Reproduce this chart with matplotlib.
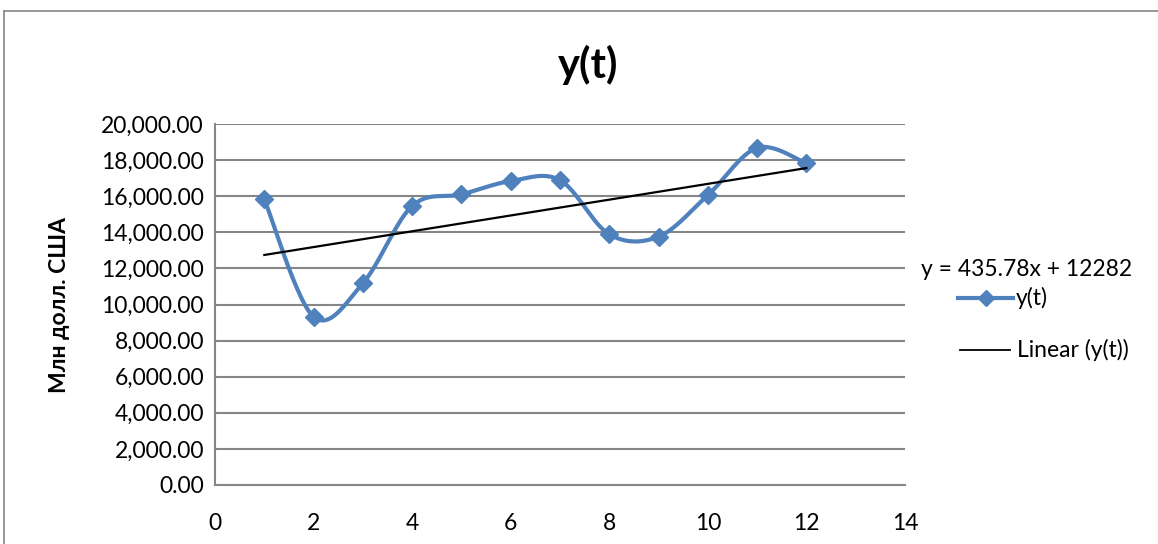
import matplotlib.pyplot as plt
import numpy as np
from matplotlib.lines import Line2D

plt.rcParams['font.family'] = ['Lato', 'DejaVu Sans']

# values
t = [1, 2, 3, 4, 5, 6, 7, 8, 9, 10, 11, 12]
y = [15830, 9320, 11180, 15460, 16100, 16840, 16890, 13890, 13760, 16060, 18680, 17820]
y_ticks = list(range(0, 20001, 2000))
x_ticks = list(range(0, 15, 2))
equation = "y = 435.78x + 12282"

BLUE = '#4F81BD'
GRID = '#868686'


def smooth_curve(xs, ys, steps=30):
    """Excel-like smoothed line (Catmull-Rom through the points)."""
    xs = np.asarray(xs, float)
    ys = np.asarray(ys, float)
    px = np.concatenate([[xs[0]], xs, [xs[-1]]])
    py = np.concatenate([[ys[0]], ys, [ys[-1]]])
    out_x, out_y = [], []
    s = np.linspace(0, 1, steps)
    for i in range(1, len(px) - 2):
        p0, p1, p2, p3 = px[i - 1], px[i], px[i + 1], px[i + 2]
        q0, q1, q2, q3 = py[i - 1], py[i], py[i + 1], py[i + 2]
        # bezier control points
        cx1, cy1 = p1 + (p2 - p0) / 6, q1 + (q2 - q0) / 6
        cx2, cy2 = p2 - (p3 - p1) / 6, q2 - (q3 - q1) / 6
        bx = (1 - s) ** 3 * p1 + 3 * (1 - s) ** 2 * s * cx1 + 3 * (1 - s) * s ** 2 * cx2 + s ** 3 * p2
        by = (1 - s) ** 3 * q1 + 3 * (1 - s) ** 2 * s * cy1 + 3 * (1 - s) * s ** 2 * cy2 + s ** 3 * q2
        out_x.extend(bx)
        out_y.extend(by)
    return np.array(out_x), np.array(out_y)


fig = plt.figure(figsize=(11.58, 5.44), dpi=100)
ax = fig.add_axes([0.1857, 0.1085, 0.5958, 0.6635])

# chart frame (top and left edges visible)
fig.add_artist(Line2D([4 / 1158, 1], [1 - 11 / 544, 1 - 11 / 544], color=GRID, lw=1.2))
fig.add_artist(Line2D([4 / 1158, 4 / 1158], [0, 1 - 11 / 544], color=GRID, lw=1.2))

sx, sy = smooth_curve(t, y)
ax.plot(sx, sy, color=BLUE, lw=3, solid_capstyle='round', zorder=3)
ax.plot(t, y, linestyle='none', marker='D', markersize=9, color=BLUE, zorder=4)

coef = np.polyfit(t, y, 1)
tx = np.array([t[0], t[-1]])
ax.plot(tx, np.polyval(coef, tx), color='black', lw=1.6, zorder=5)

ax.set_xlim(0, 14)
ax.set_ylim(0, 20000)
ax.set_xticks(x_ticks)
ax.set_yticks(y_ticks)
ax.set_yticklabels([f"{v:,.2f}" for v in y_ticks])
ax.tick_params(length=0, labelsize=16.5, pad=8)
ax.tick_params(axis='x', pad=20)
ax.yaxis.grid(True, color=GRID, lw=1.5)
ax.set_axisbelow(True)
for side in ['top', 'right']:
    ax.spines[side].set_visible(False)
for side in ['left', 'bottom']:
    ax.spines[side].set_color(GRID)
    ax.spines[side].set_linewidth(1.5)

ax.set_ylabel("Млн долл. США", fontsize=16.5, fontweight='bold', labelpad=22)
fig.text(0.508, 0.88, "y(t)", fontsize=30, fontweight='bold', ha='center', va='center')

# legend area
fig.text(921 / 1158, 1 - 270 / 544, equation, fontsize=16.5, va='center')
fig.add_artist(Line2D([958 / 1158, 1013 / 1158], [1 - 298 / 544] * 2, color=BLUE, lw=3))
fig.add_artist(Line2D([985.5 / 1158], [1 - 298 / 544], marker='D', markersize=8, color=BLUE))
fig.text(1016 / 1158, 1 - 298 / 544, "y(t)", fontsize=16.5, va='center')
fig.add_artist(Line2D([960 / 1158, 1010 / 1158], [1 - 350 / 544] * 2, color='black', lw=1.3))
fig.text(1017 / 1158, 1 - 350 / 544, "Linear (y(t))", fontsize=16.5, va='center')

fig.savefig("out.png", dpi=100)
